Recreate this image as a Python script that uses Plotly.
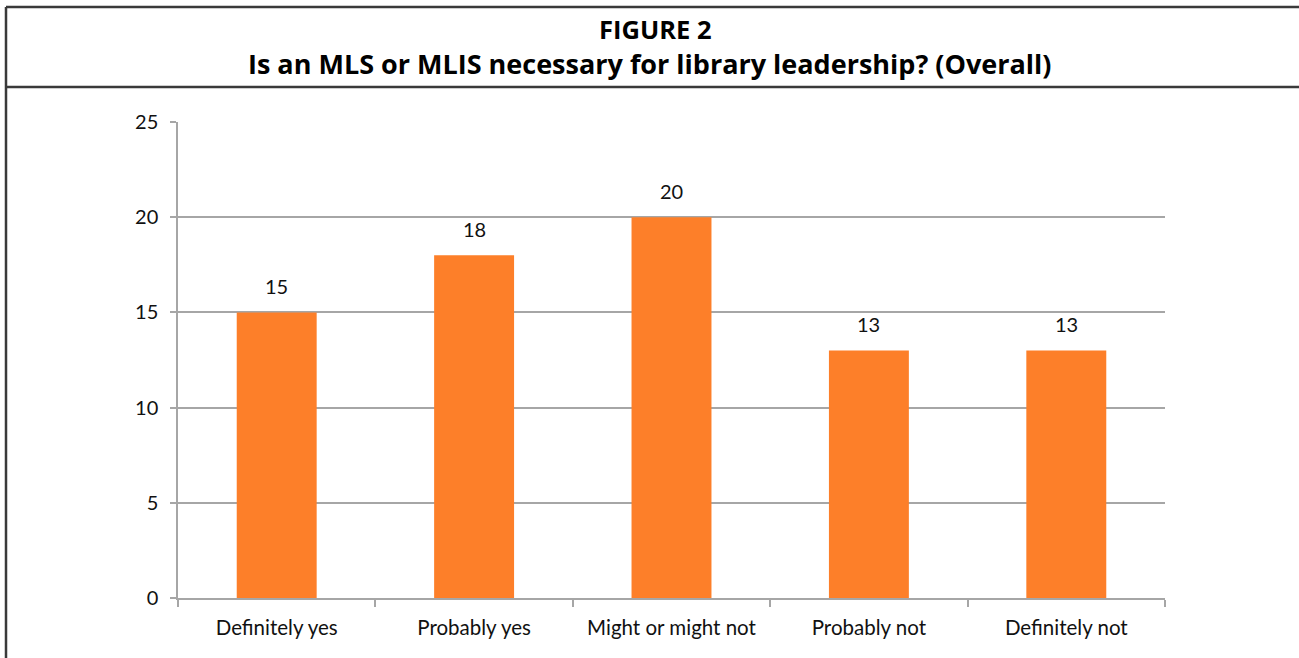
import plotly.graph_objects as go

categories = ["Definitely yes", "Probably yes", "Might or might not", "Probably not", "Definitely not"]
values = [15, 18, 20, 13, 13]
y_ticks = [0, 5, 10, 15, 20, 25]

W, H = 1299, 658
L, R, T, B = 178, 1165, 122, 598

def px(x):
    return (x - L) / (R - L)

def py(y):
    return (B - y) / (B - T)

fig = go.Figure(go.Bar(
    x=categories, y=values, width=0.405,
    marker=dict(color="#FD7F29", line=dict(width=0)),
    hoverinfo="x+y",
))

for c, v in zip(categories, values):
    fig.add_annotation(x=c, y=v, text=str(v), showarrow=False, yanchor="bottom",
                       yshift=12, font=dict(family="Lato, Carlito, sans-serif", size=20, color="#111"))

fig.update_layout(
    width=W, height=H,
    margin=dict(l=L, r=W - R, t=T, b=H - B),
    paper_bgcolor="white", plot_bgcolor="white",
    showlegend=False, bargap=0.6,
    font=dict(family="Lato, Carlito, sans-serif", size=20, color="#111"),
    xaxis=dict(showline=True, linecolor="#A6A6A6", linewidth=1.5,
               ticks="outside", tickson="boundaries", ticklen=7, tickcolor="#A6A6A6",
               tickwidth=1.5, showgrid=False, tickfont=dict(size=20.5), ticklabelstandoff=11),
    yaxis=dict(range=[0, 25], tickvals=y_ticks, showline=True, linecolor="#A6A6A6",
               linewidth=1.5, ticks="outside", ticklen=6, tickcolor="#A6A6A6", tickwidth=1.5,
               showgrid=True, gridcolor="#A6A6A6", gridwidth=1.5, zeroline=False,
               tickfont=dict(size=20), ticklabelstandoff=8),
)

lc = dict(color="#3A3A3A", width=2.5)
shapes = [
    dict(type="line", xref="paper", yref="paper", x0=px(6), x1=px(1300), y0=py(7), y1=py(7), line=lc),
    dict(type="line", xref="paper", yref="paper", x0=px(6), x1=px(1300), y0=py(87), y1=py(87), line=lc),
    dict(type="line", xref="paper", yref="paper", x0=px(6), x1=px(6), y0=py(7), y1=py(660), line=lc),
]
fig.update_layout(shapes=shapes)

fig.add_annotation(xref="paper", yref="paper", x=px(655), y=py(29), text="<b>FIGURE 2</b>",
                   showarrow=False, font=dict(family="Open Sans, sans-serif", size=25.5, color="#000"),
                   xanchor="center", yanchor="middle", borderpad=0)
fig.add_annotation(xref="paper", yref="paper", x=px(649), y=py(64),
                   text="<b>Is an MLS or MLIS necessary for library leadership? (Overall)</b>",
                   showarrow=False, font=dict(family="Open Sans, sans-serif", size=27, color="#000"),
                   xanchor="center", yanchor="middle", borderpad=0)

fig.write_html("out.html", config={"displayModeBar": False},
               post_script="document.body.style.margin='0';document.body.style.overflow='hidden';")
